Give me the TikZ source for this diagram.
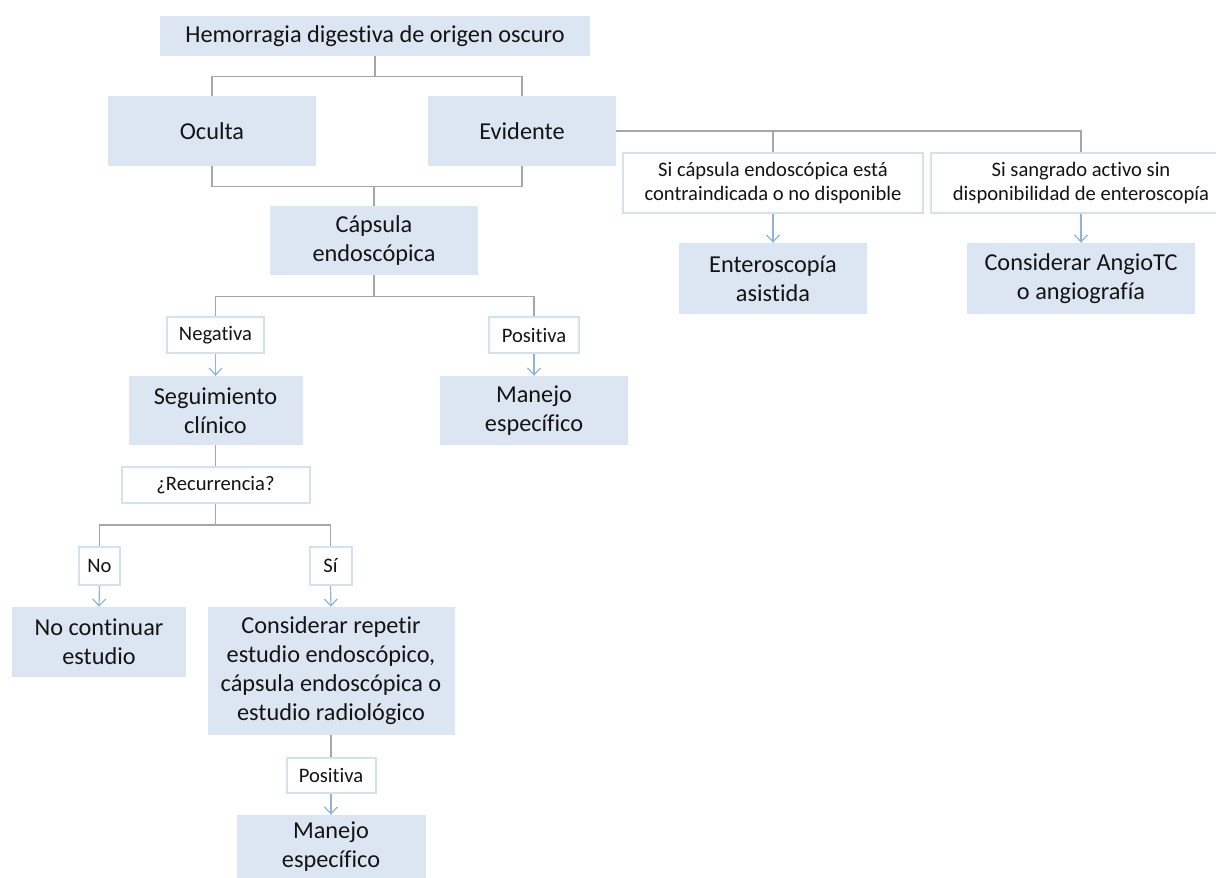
\documentclass[tikz,border=0pt]{standalone}
\usepackage{fontspec}
\setmainfont{Carlito}[Ligatures=NoCommon]
\usetikzlibrary{arrows.meta}
\definecolor{ChartFill}{HTML}{DCE6F2}
\definecolor{ChartEdge}{HTML}{D3E1F0}
\definecolor{ChartLine}{HTML}{A6A6A6}
\definecolor{ChartArrow}{HTML}{8DB3E2}
\definecolor{ChartInk}{HTML}{141414}
\tikzset{
  stagebox/.style={fill=ChartFill,draw=none,align=center,inner sep=0pt,
                   text=ChartInk,font=\fontsize{24.3}{29}\selectfont},
  querybox/.style={fill=white,draw=ChartEdge,line width=2pt,align=center,inner sep=0pt,
                   text=ChartInk,font=\fontsize{20.6}{24}\selectfont},
  link/.style={ChartLine,line width=1.2pt},
  flow/.style={ChartArrow,line width=1.2pt,-{Straight Barb[length=7pt,width=13pt]}},
}
% #1 name, #2 position, #3 width, #4 height, #5 text
\newcommand{\stagenode}[5]{%
  \node[stagebox,minimum width=#3,minimum height=#4,at={#2}] (#1) {#5};%
}
\newcommand{\querynode}[5]{%
  \node[querybox,minimum width=#3,minimum height=#4,at={#2}] (#1) {#5};%
}

\begin{document}
\begin{tikzpicture}[x=1pt,y=-1pt]
  \useasboundingbox (0,0) rectangle (1216,878);
  % main column
  \stagenode{origen}{(375,36)}{430}{40}{Hemorragia digestiva de origen oscuro}
  \stagenode{oculta}{(212,131)}{208}{70}{Oculta}
  \stagenode{evidente}{(522,131)}{188}{70}{Evidente}
  \stagenode{capsula}{(374,240.5)}{208}{69}{Cápsula\\endoscópica}
  \querynode{negativa}{(215.5,335)}{97}{36}{Negativa}
  \querynode{positivaA}{(534,335)}{90}{36}{Positiva}
  \stagenode{seguim}{(215.5,410.5)}{174}{69}{Seguimiento\\clínico}
  \stagenode{manejoA}{(534,410.5)}{188}{69}{Manejo\\específico}
  \querynode{recurr}{(215.5,485)}{188}{36}{¿Recurrencia?}
  \querynode{no}{(99.5,566)}{41}{38}{No}
  \querynode{si}{(330.5,566)}{42}{38}{Sí}
  \stagenode{nocont}{(99,642)}{174}{70}{No continuar\\estudio}
  \stagenode{repetir}{(331,671)}{247}{128}{Considerar repetir\\estudio endoscópico,\\cápsula endoscópica o\\estudio radiológico}
  \querynode{positivaB}{(331,775.5)}{89}{35}{Positiva}
  \stagenode{manejoB}{(331,847)}{189}{64}{Manejo\\específico}
  % right branch
  \querynode{sicaps}{(773,183)}{300}{60}{Si cápsula endoscópica está\\contraindicada o no disponible}
  \querynode{sisangr}{(1081,183)}{300}{60}{Si sangrado activo sin\\disponibilidad de enteroscopía}
  \stagenode{entero}{(773,278.5)}{188}{71}{Enteroscopía\\asistida}
  \stagenode{angio}{(1081,278.5)}{228}{71}{Considerar AngioTC\\o angiografía}

  \draw[link] (origen.south) -- ++(0,20) -| (oculta.north);
  \draw[link] (origen.south) -- ++(0,20) -| (evidente.north);
  \draw[link] (oculta.south) -- ++(0,20) -| (capsula.north);
  \draw[link] (evidente.south) -- ++(0,20) -| (capsula.north);
  \draw[link] (evidente.east) -| (sicaps.north);
  \draw[link] (evidente.east) -| (sisangr.north);
  \draw[link] (capsula.south) -- ++(0,21) -| (negativa.north);
  \draw[link] (capsula.south) -- ++(0,21) -| (positivaA.north);
  \draw[flow] (negativa.south) -- (seguim.north);
  \draw[flow] (positivaA.south) -- (manejoA.north);
  \draw[link] (seguim.south) -- (recurr.north);
  \draw[link] (recurr.south) -- ++(0,21) -| (no.north);
  \draw[link] (recurr.south) -- ++(0,21) -| (si.north);
  \draw[flow] (no.south) -- (nocont.north);
  \draw[flow] (si.south) -- (repetir.north);
  \draw[link] (repetir.south) -- (positivaB.north);
  \draw[flow] (positivaB.south) -- (manejoB.north);
  \draw[flow] (sicaps.south) -- (entero.north);
  \draw[flow] (sisangr.south) -- (angio.north);
\end{tikzpicture}
\end{document}
